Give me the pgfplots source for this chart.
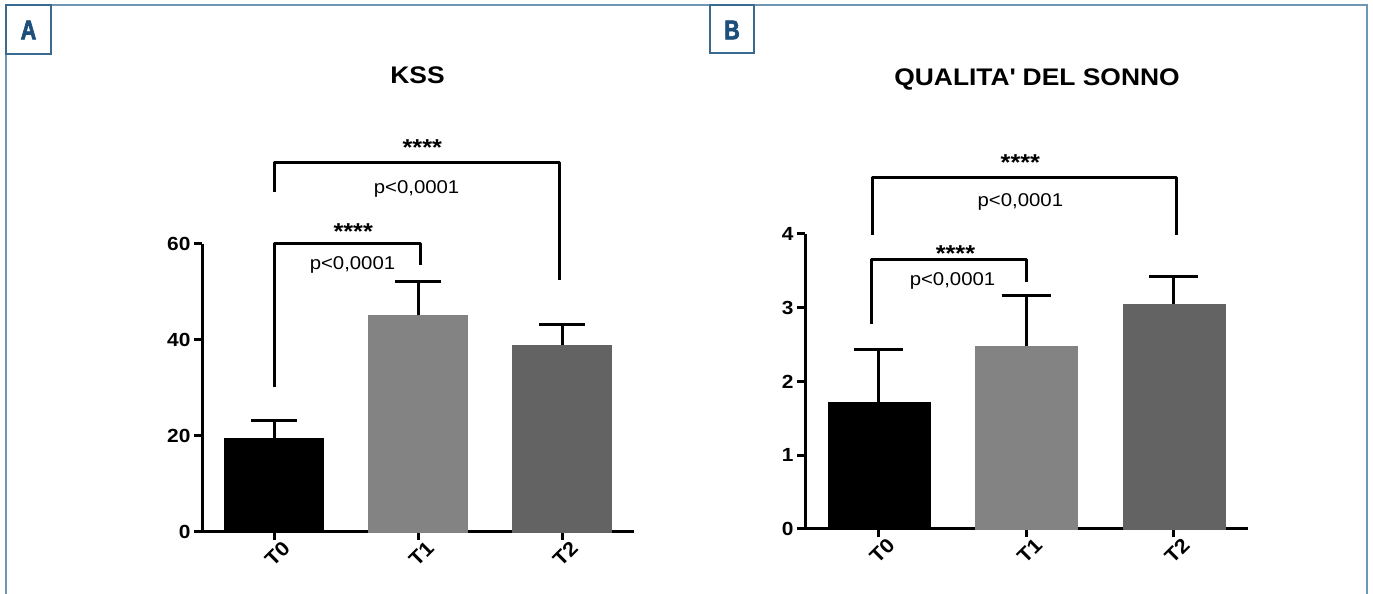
\documentclass[border=0pt]{standalone}
\usepackage{pgfplots}
\pgfplotsset{compat=1.18}
\usepackage{fontspec}
\setmainfont{Liberation Sans}[FakeStretch=1.1]
\newfontfamily\labfont{Liberation Sans Bold}[FakeStretch=0.8, FakeBold=2.5]
\definecolor{frameblue}{HTML}{6E97B4}
\definecolor{boxblue}{HTML}{3A6A8F}
\definecolor{txtblue}{HTML}{1D4F7B}
\definecolor{gA}{HTML}{838383}
\definecolor{gB}{HTML}{636363}
\newcommand{\fs}[1]{\fontsize{#1}{#1}\selectfont}
\pgfplotsset{gp/.style={
  scale only axis, axis x line*=bottom, axis y line*=left,
  axis line style={line width=3pt, -},
  every tick/.style={line width=3pt, black},
  tick align=outside, major tick length=8pt,
  xtick={0,1,2}, xticklabels={T0,T1,T2},
  xmin=-0.5, xmax=2.5, ymin=0, clip=false,
  ybar, bar shift=0pt,
  xticklabel style={rotate=45, anchor=east, xshift=9pt, yshift=-12pt, font=\fs{20}\bfseries},
  yticklabel style={font=\fs{19}\bfseries},
  /pgf/number format/assume math mode=true,
  minor tick num=0},
  br/.style={sharp plot, no marks, black, line width=3pt, line join=round, forget plot},
  eb/.style={error bars/.cd, y dir=plus, y explicit,
    error bar style={line width=3pt, black},
    error mark options={rotate=90, line width=3pt, black, mark size=#1}},
}
\begin{document}
\begin{tikzpicture}
\useasboundingbox (0,0) rectangle (1373pt,594pt);
% frame
\draw[frameblue, line width=2pt] (6pt,-3pt) -- (6pt,589pt) -- (1367pt,589pt) -- (1367pt,-3pt);
\draw[boxblue, line width=1.6pt, fill=white] (6pt,589pt) rectangle (51pt,540pt);
\draw[boxblue, line width=1.6pt, fill=white] (710pt,589pt) rectangle (754pt,541pt);
\node[txtblue, font=\labfont\fs{27}] at (28.5pt,564pt) {A};
\node[txtblue, font=\labfont\fs{27}] at (732pt,564pt) {B};
% titles
\node[anchor=base, font=\fs{24}\bfseries] at (417.5pt,510pt) {KSS};
\node[anchor=base, font=\fs{24}\bfseries] at (1037pt,508pt) {QUALITA\textquotesingle{} DEL SONNO};
% Panel A
\begin{axis}[gp, at={(202pt,62pt)}, anchor=south west, width=432pt, height=288pt,
  ymax=60, ytick={0,20,40,60}, bar width=99pt]
\addplot[fill=black, draw=black, eb=23pt] coordinates {(0,19.5) +- (0,3.8)};
\addplot[fill=gA, draw=gA, eb=23pt] coordinates {(1,45.2) +- (0,7.0)};
\addplot[fill=gB, draw=gB, eb=23pt] coordinates {(2,39.0) +- (0,4.3)};
\addplot[br] coordinates {(0,70.8) (0,76.9) (1.98,76.9) (1.98,52.5)};
\addplot[br] coordinates {(0,30.2) (0,60.2) (1.02,60.2) (1.02,55.6)};
\node[anchor=base, font=\fs{23}\bfseries] at (axis cs:1.03,78.5) {****};
\node[anchor=base, font=\fs{18.5}] at (axis cs:0.99,70.6) {p<0,0001};
\node[anchor=base, font=\fs{23}\bfseries] at (axis cs:0.55,60.9) {****};
\node[anchor=base, font=\fs{18.5}] at (axis cs:0.545,54.7) {p<0,0001};
\end{axis}
% Panel B
\begin{axis}[gp, at={(805pt,65pt)}, anchor=south west, width=442.5pt, height=295pt,
  ymax=4, ytick={0,1,2,3,4}, bar width=102pt]
\addplot[fill=black, draw=black, eb=24.5pt] coordinates {(0,1.72) +- (0,0.71)};
\addplot[fill=gA, draw=gA, eb=24.5pt] coordinates {(1,2.48) +- (0,0.68)};
\addplot[fill=gB, draw=gB, eb=24.5pt] coordinates {(2,3.05) +- (0,0.38)};
\addplot[br] coordinates {(-0.04,3.99) (-0.04,4.76) (2.02,4.76) (2.02,3.99)};
\addplot[br] coordinates {(-0.05,2.78) (-0.05,3.65) (1.005,3.65) (1.005,3.35)};
\node[anchor=base, font=\fs{23}\bfseries] at (axis cs:0.96,4.86) {****};
\node[anchor=base, font=\fs{18.5}] at (axis cs:0.96,4.37) {p<0,0001};
\node[anchor=base, font=\fs{23}\bfseries] at (axis cs:0.52,3.625) {****};
\node[anchor=base, font=\fs{18.5}] at (axis cs:0.50,3.30) {p<0,0001};
\end{axis}
\end{tikzpicture}
\end{document}
